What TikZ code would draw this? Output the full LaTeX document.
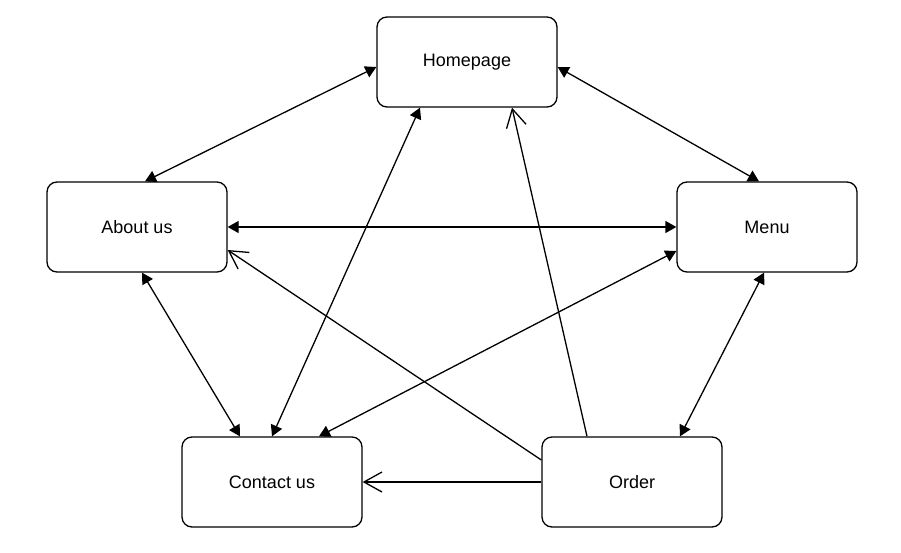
\documentclass[tikz,border=0pt]{standalone}
\usepackage{fontspec}
\setmainfont{Liberation Sans}
\usetikzlibrary{arrows.meta}

\tikzset{
	page/.style={draw, line width=1.3pt, rounded corners=10pt,
		minimum width=180pt, minimum height=90pt,
		font=\fontsize{18}{21}\selectfont},
	link/.style={line width=1.3pt,
		{Triangle[length=11pt,width=12pt]}-{Triangle[length=11pt,width=12pt]}},
	visit/.style={line width=1.3pt,
		-{Straight Barb[length=18pt,width=20pt,line width=1.3pt]}}
}

\begin{document}
\begin{tikzpicture}[x=1pt,y=-1pt]
		\useasboundingbox (0,0) rectangle (901,553);

		\node[page] (home) at (467,62) {Homepage};
		\node[page] (about) at (137,227) {About us};
		\node[page] (menu) at (767,227) {Menu};
		\node[page] (contact) at (272,482) {Contact us};
		\node[page] (order) at (632,482) {Order};

		% two-way links
		\draw[link] ([yshift=-5pt]home.west) -- ([xshift=8pt]about.north);
		\draw[link] ([yshift=-5pt]home.east) -- ([xshift=-8pt]menu.north);
		\draw[link] (about.east) -- (menu.west);
		\draw[link] ([xshift=5pt]about.south) -- ([xshift=-32pt]contact.north);
		\draw[link] ([xshift=-47pt]home.south) -- (contact.north);
		\draw[link] ([yshift=-24pt]menu.west) -- ([xshift=47pt]contact.north);
		\draw[link] ([xshift=-3pt]menu.south) -- ([xshift=48pt]order.north);

		% from the order page
		\draw[visit] ([xshift=-45pt]order.north) -- ([xshift=45pt]home.south);
		\draw[visit] ([yshift=22pt]order.west) -- ([yshift=-23pt]about.east);
		\draw[visit] (order.west) -- (contact.east);
	\end{tikzpicture}
\end{document}
